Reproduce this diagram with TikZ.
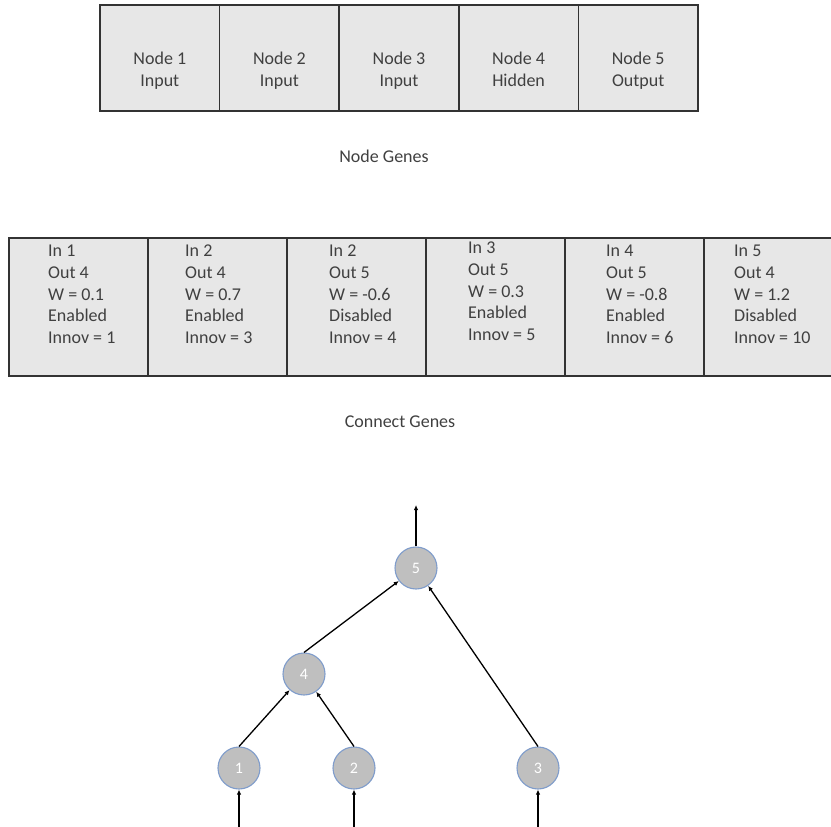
\documentclass[tikz,border=0pt]{standalone}
\usepackage{fontspec}
\setmainfont{Carlito}
\usetikzlibrary{arrows.meta}
\definecolor{cellfill}{HTML}{E7E7E7}
\definecolor{cellline}{HTML}{333333}
\definecolor{inktext}{HTML}{404040}
\definecolor{neuronfill}{HTML}{BFBFBF}
\definecolor{neuronline}{HTML}{7F9CCB}
\begin{document}
\begin{tikzpicture}[x=1pt,y=-1pt,
  cell/.style={draw=cellline, fill=cellfill, line width=1.7pt, rectangle, inner sep=0pt},
  nodecell/.style={cell, minimum width=119.6pt, minimum height=106pt},
  genecell/.style={cell, minimum width=139pt, minimum height=138pt},
  txt/.style={text=inktext, font=\fontsize{18}{21.7}\selectfont, inner sep=0pt},
  neuron/.style={circle, draw=neuronline, fill=neuronfill, line width=1.1pt,
    minimum size=42pt, inner sep=0pt, text=white, font=\fontsize{16}{19}\selectfont},
  link/.style={draw=black, line width=1.3pt, -{Latex[length=5pt,width=4.5pt]}}
]
\useasboundingbox (0,0) rectangle (831,827);

% node genes
\foreach \i in {1,...,5} {
  \node[nodecell] (ng\i) at ({159.8+119.6*(\i-1)},58) {};
}
\node[txt, align=center, anchor=north] (ngt1) at (ng1.center |- 0,52) {Node 1\\Input};
\node[txt, align=center, anchor=north] (ngt2) at (ng2.center |- 0,52) {Node 2\\Input};
\node[txt, align=center, anchor=north] (ngt3) at (ng3.center |- 0,52) {Node 3\\Input};
\node[txt, align=center, anchor=north] (ngt4) at (ng4.center |- 0,52) {Node 4\\Hidden};
\node[txt, align=center, anchor=north] (ngt5) at (ng5.center |- 0,52) {Node 5\\Output};
\node[txt, anchor=base] (capnodes) at (384,162) {Node Genes};

% connection genes (the row runs past the right edge)
\begin{scope}
  \clip (0,0) rectangle (831,827);
  \foreach \i in {1,...,6} {
    \node[genecell] (cg\i) at ({78.5+139*(\i-1)},307) {};
  }
\end{scope}
\node[txt, align=left, anchor=north west] (cgt1) at (48,245) {In 1\\Out 4\\W = 0.1\\Enabled\\Innov = 1};
\node[txt, align=left, anchor=north west] (cgt2) at (185,245) {In 2\\Out 4\\W = 0.7\\Enabled\\Innov = 3};
\node[txt, align=left, anchor=north west] (cgt3) at (329,245) {In 2\\Out 5\\W = -0.6\\Disabled\\Innov = 4};
\node[txt, align=left, anchor=north west] (cgt4) at (468,242) {In 3\\Out 5\\W = 0.3\\Enabled\\Innov = 5};
\node[txt, align=left, anchor=north west] (cgt5) at (606,245) {In 4\\Out 5\\W = -0.8\\Enabled\\Innov = 6};
\node[txt, align=left, anchor=north west] (cgt6) at (734,245) {In 5\\Out 4\\W = 1.2\\Disabled\\Innov = 10};
\node[txt, anchor=base] (capconn) at (400,427) {Connect Genes};

% network
\node[neuron] (n5) at (416,568) {5};
\node[neuron] (n4) at (304,674) {4};
\node[neuron] (n1) at (239,768) {1};
\node[neuron] (n2) at (354,768) {2};
\node[neuron] (n3) at (538,768) {3};
\coordinate (out) at (416,505);
\coordinate (in1) at (239,830);
\coordinate (in2) at (354,830);
\coordinate (in3) at (538,830);

\draw[link] (n5.north) -- (out);
\draw[link] (n4.north) -- (n5);
\draw[link] (n3.north) -- (n5);
\draw[link] (n1.north) -- (n4);
\draw[link] (n2.north) -- (n4);
\draw[link] (in1) -- (n1.south);
\draw[link] (in2) -- (n2.south);
\draw[link] (in3) -- (n3.south);
\end{tikzpicture}
\end{document}
